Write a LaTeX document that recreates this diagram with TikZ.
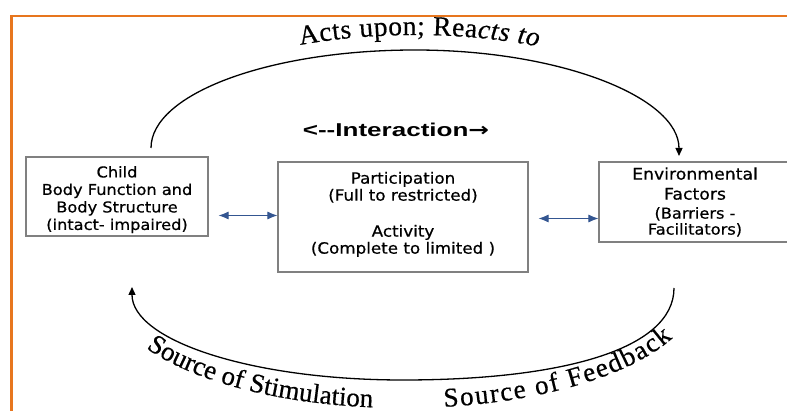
\documentclass[tikz,border=0pt]{standalone}
\usepackage{fontspec}
\usetikzlibrary{arrows.meta,decorations.text}
\newfontfamily\wafont[FakeBold=0.5]{Liberation Serif}
\newfontfamily\bxfont[FakeStretch=1.08,FakeBold=0.6]{DejaVu Sans}
\newfontfamily\interfont[FakeStretch=1.4]{Liberation Sans}
\newfontfamily\arrfont[FakeStretch=1.3]{DejaVu Sans}
\newcommand\wasize{\wafont\fontsize{27.5}{30}\selectfont}
\newcommand\wbsize{\wafont\fontsize{27}{30}\selectfont}
\definecolor{frameorange}{RGB}{231,118,30}
\definecolor{boxgray}{RGB}{128,128,128}
\definecolor{arrowblue}{RGB}{52,86,145}
\tikzset{
  box/.style={draw=boxgray, line width=1.2pt, fill=white, inner sep=0pt, align=center},
  biarrow/.style={{Latex[length=10pt,width=8pt]}-{Latex[length=10pt,width=8pt]}, draw=arrowblue, fill=arrowblue, line width=0.9pt},
  loopline/.style={line width=1.3pt, draw=black, -{Triangle[length=8pt,width=7pt]}},
  frameline/.style={draw=frameorange, line width=2.6pt},
  curvedtext/.style={decorate, decoration={text along path, text align=fit to path, text={#1}}}
}
\begin{document}
\begin{tikzpicture}[x=1pt,y=1pt]
\useasboundingbox (0,0) rectangle (787,-411);
\fill[white] (0,0) rectangle (787,-411);
\clip (0,0) rectangle (787,-411);

% orange frame
\draw[frameline] (11.5,-430) -- (11.5,-16) -- (800,-16);

% boxes
\node[box, minimum width=182pt, minimum height=79pt, font=\bxfont\fontsize{15}{17.5}\selectfont] (child) at (117,-196.5)
  {\rule{0pt}{17.5pt}Child\\Body Function and\\Body Structure\\(intact- impaired)};
\node[box, minimum width=250pt, minimum height=110pt, font=\bxfont\fontsize{15.5}{17}\selectfont] (mid) at (403,-217)
  {Participation\\(Full to restricted)\\[19pt]Activity\\(Complete to limited )\rule[-8.5pt]{0pt}{8.5pt}};
\node[box, minimum width=192pt, minimum height=80pt, font=\bxfont\fontsize{16}{17}\selectfont] (env) at (695,-202)
  {Environmental\\[3pt]Factors\\[2pt]{\fontsize{15}{17}\selectfont(Barriers -}\\[-1pt]{\fontsize{15}{17}\selectfont Facilitators)}};

% interaction label
\node[anchor=base, inner sep=0pt, font=\interfont\bfseries\fontsize{18.6}{22}\selectfont] (inter) at (396,-137) {<-{}-Interaction{\arrfont\fontsize{19}{22}\selectfont→}};

% double arrows
\draw[biarrow] ([xshift=10pt,yshift=1.5pt]child.east |- mid.west) -- ([yshift=1.5pt]mid.west);
\draw[biarrow] ([xshift=10pt,yshift=-1.5pt]mid.east) -- ([yshift=-1.5pt]mid.east -| env.west);

% top loop
\coordinate (ts) at (151,-148);
\draw[loopline] (ts) arc[start angle=180, end angle=90, x radius=264, y radius=98]
  arc[start angle=90, end angle=0, x radius=264, y radius=106];
\path[curvedtext={|\wasize|Acts upon; Rea|\wasize\itshape|cts to}]
  (300.2,-45.0) arc[start angle=114.3, end angle=63.8, x radius=279, y radius=113];

% bottom loop
\coordinate (bs) at (674,-288);
\coordinate (bm) at (403,-380);
\coordinate (be) at (132,-287);
\draw[loopline] (bs) .. controls (674,-350) and (560,-380) .. (bm)
  .. controls (250,-380) and (132,-340) .. (be);
\path[curvedtext={|\wbsize|Source of Stimulation}]
  (146.2,-348.1) arc[start angle=209.5, end angle=264, x radius=295, y radius=118];
\path[curvedtext={|\wbsize|Source of Feedback}]
  (444.1,-406.9) arc[start angle=278, end angle=336, x radius=295, y radius=118];
\end{tikzpicture}
\end{document}
